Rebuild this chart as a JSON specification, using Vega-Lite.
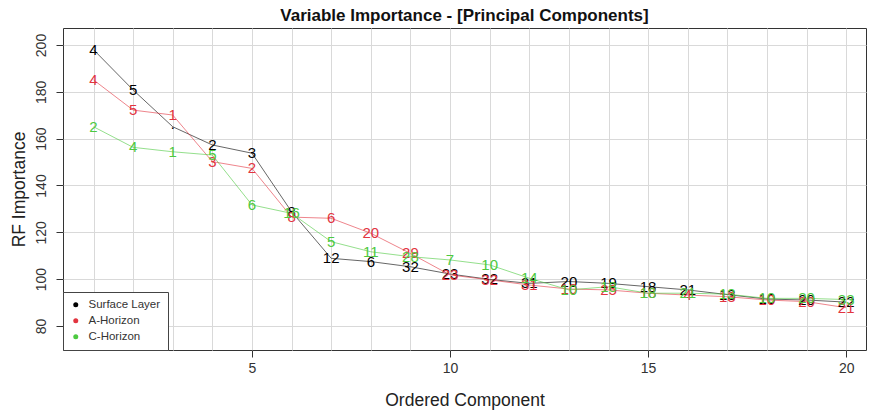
{
  "$schema": "https://vega.github.io/schema/vega-lite/v6.json",
  "autosize": {"type": "none"},
  "width": 803,
  "height": 322,
  "padding": {"left": 63, "top": 28, "right": 8, "bottom": 62},
  "background": "white",
  "title": {"text": "Variable Importance - [Principal Components]", "fontSize": 17, "font": "Liberation Sans", "fontWeight": "bold", "color": "#111", "anchor": "middle", "offset": 3},
  "config": {"view": {"stroke": "#333", "strokeWidth": 1}, "font": "Liberation Sans"},
  "data": {"values": [
    {"x": 1, "y": 198.0, "series": "Surface Layer", "label": "4"},
    {"x": 2, "y": 180.8, "series": "Surface Layer", "label": "5"},
    {"x": 3, "y": 165.1, "series": "Surface Layer", "label": "·"},
    {"x": 4, "y": 157.3, "series": "Surface Layer", "label": "2"},
    {"x": 5, "y": 153.8, "series": "Surface Layer", "label": "3"},
    {"x": 6, "y": 128.8, "series": "Surface Layer", "label": "8"},
    {"x": 7, "y": 108.9, "series": "Surface Layer", "label": "12"},
    {"x": 8, "y": 107.5, "series": "Surface Layer", "label": "6"},
    {"x": 9, "y": 105.3, "series": "Surface Layer", "label": "32"},
    {"x": 10, "y": 102.2, "series": "Surface Layer", "label": "23"},
    {"x": 11, "y": 99.9, "series": "Surface Layer", "label": "32"},
    {"x": 12, "y": 98.2, "series": "Surface Layer", "label": "31"},
    {"x": 13, "y": 99.0, "series": "Surface Layer", "label": "20"},
    {"x": 14, "y": 98.2, "series": "Surface Layer", "label": "19"},
    {"x": 15, "y": 96.8, "series": "Surface Layer", "label": "18"},
    {"x": 16, "y": 95.4, "series": "Surface Layer", "label": "21"},
    {"x": 17, "y": 93.4, "series": "Surface Layer", "label": "13"},
    {"x": 18, "y": 91.5, "series": "Surface Layer", "label": "10"},
    {"x": 19, "y": 91.1, "series": "Surface Layer", "label": "20"},
    {"x": 20, "y": 90.2, "series": "Surface Layer", "label": "22"},
    {"x": 1, "y": 185.1, "series": "A-Horizon", "label": "4"},
    {"x": 2, "y": 172.2, "series": "A-Horizon", "label": "5"},
    {"x": 3, "y": 170.1, "series": "A-Horizon", "label": "1"},
    {"x": 4, "y": 150.2, "series": "A-Horizon", "label": "3"},
    {"x": 5, "y": 147.3, "series": "A-Horizon", "label": "2"},
    {"x": 6, "y": 126.5, "series": "A-Horizon", "label": "8"},
    {"x": 7, "y": 126.0, "series": "A-Horizon", "label": "6"},
    {"x": 8, "y": 119.6, "series": "A-Horizon", "label": "20"},
    {"x": 9, "y": 111.0, "series": "A-Horizon", "label": "29"},
    {"x": 10, "y": 101.8, "series": "A-Horizon", "label": "23"},
    {"x": 11, "y": 99.7, "series": "A-Horizon", "label": "32"},
    {"x": 12, "y": 97.5, "series": "A-Horizon", "label": "31"},
    {"x": 13, "y": 95.8, "series": "A-Horizon", "label": "10"},
    {"x": 14, "y": 95.4, "series": "A-Horizon", "label": "25"},
    {"x": 15, "y": 94.0, "series": "A-Horizon", "label": "18"},
    {"x": 16, "y": 93.2, "series": "A-Horizon", "label": "4"},
    {"x": 17, "y": 92.5, "series": "A-Horizon", "label": "13"},
    {"x": 18, "y": 91.1, "series": "A-Horizon", "label": "10"},
    {"x": 19, "y": 90.4, "series": "A-Horizon", "label": "20"},
    {"x": 20, "y": 87.8, "series": "A-Horizon", "label": "21"},
    {"x": 1, "y": 165.1, "series": "C-Horizon", "label": "2"},
    {"x": 2, "y": 156.3, "series": "C-Horizon", "label": "4"},
    {"x": 3, "y": 154.4, "series": "C-Horizon", "label": "1"},
    {"x": 4, "y": 153.0, "series": "C-Horizon", "label": "5"},
    {"x": 5, "y": 131.7, "series": "C-Horizon", "label": "6"},
    {"x": 6, "y": 128.1, "series": "C-Horizon", "label": "16"},
    {"x": 7, "y": 116.0, "series": "C-Horizon", "label": "5"},
    {"x": 8, "y": 111.7, "series": "C-Horizon", "label": "11"},
    {"x": 9, "y": 109.6, "series": "C-Horizon", "label": "28"},
    {"x": 10, "y": 108.2, "series": "C-Horizon", "label": "7"},
    {"x": 11, "y": 106.1, "series": "C-Horizon", "label": "10"},
    {"x": 12, "y": 100.4, "series": "C-Horizon", "label": "14"},
    {"x": 13, "y": 95.4, "series": "C-Horizon", "label": "10"},
    {"x": 14, "y": 96.8, "series": "C-Horizon", "label": "18"},
    {"x": 15, "y": 94.0, "series": "C-Horizon", "label": "18"},
    {"x": 16, "y": 94.0, "series": "C-Horizon", "label": "21"},
    {"x": 17, "y": 93.6, "series": "C-Horizon", "label": "13"},
    {"x": 18, "y": 91.8, "series": "C-Horizon", "label": "10"},
    {"x": 19, "y": 91.8, "series": "C-Horizon", "label": "20"},
    {"x": 20, "y": 91.3, "series": "C-Horizon", "label": "33"}
  ]},
  "encoding": {
    "x": {
      "field": "x", "type": "quantitative",
      "scale": {"domain": [0.23, 20.5], "nice": false, "zero": false},
      "axis": {
        "values": [1,2,3,4,5,6,7,8,9,10,11,12,13,14,15,16,17,18,19,20],
        "labelExpr": "datum.value % 5 === 0 ? datum.label : ''",
        "title": "Ordered Component", "titleFontSize": 17.5, "titleFont": "Liberation Sans", "titleFontWeight": "normal", "titleColor": "#222", "titlePadding": 16,
        "labelFontSize": 14, "labelFont": "Liberation Sans", "labelColor": "#333", "labelPadding": 4, "labelFlush": false,
        "tickSize": 7, "tickColor": "#333",
        "tickOpacity": {"condition": {"test": "datum.value % 5 === 0", "value": 1}, "value": 0},
        "grid": true, "gridColor": "#d9d9d9", "gridWidth": 1, "domain": false
      }
    },
    "y": {
      "field": "y", "type": "quantitative",
      "scale": {"domain": [69.75, 207.26], "nice": false, "zero": false},
      "axis": {
        "values": [80, 100, 120, 140, 160, 180, 200],
        "title": "RF Importance", "titleFontSize": 17.5, "titleFont": "Liberation Sans", "titleFontWeight": "normal", "titleColor": "#222", "titlePadding": 6,
        "labelFontSize": 14, "labelFont": "Liberation Sans", "labelColor": "#333", "labelAngle": 270, "labelAlign": "center", "labelBaseline": "bottom", "labelPadding": 8,
        "tickSize": 7, "tickColor": "#333",
        "grid": true, "gridColor": "#d9d9d9", "gridWidth": 1, "domain": false
      }
    },
    "color": {
      "field": "series", "type": "nominal",
      "scale": {"domain": ["Surface Layer", "A-Horizon", "C-Horizon"], "range": ["#000000", "#E2343F", "#4DC940"]},
      "legend": {
        "title": null, "orient": "bottom-left", "offset": 0, "padding": 7,
        "fillColor": "white", "strokeColor": "#444",
        "symbolType": "circle", "symbolSize": 25, "symbolStrokeWidth": 0,
        "labelFontSize": 11.5, "labelFont": "Liberation Sans", "labelColor": "#333",
        "rowPadding": 3, "labelOffset": 7,
        "encode": {"symbols": {"update": {"fill": {"scale": "color", "field": "value"}, "stroke": {"value": "transparent"}, "opacity": {"value": 1}}}}
      }
    }
  },
  "layer": [
    {"mark": {"type": "line", "strokeWidth": 1, "opacity": 0.6}, "encoding": {"order": {"field": "x"}}},
    {"mark": {"type": "text", "fontSize": 15, "font": "Liberation Sans"}, "encoding": {"text": {"field": "label"}}}
  ]
}
